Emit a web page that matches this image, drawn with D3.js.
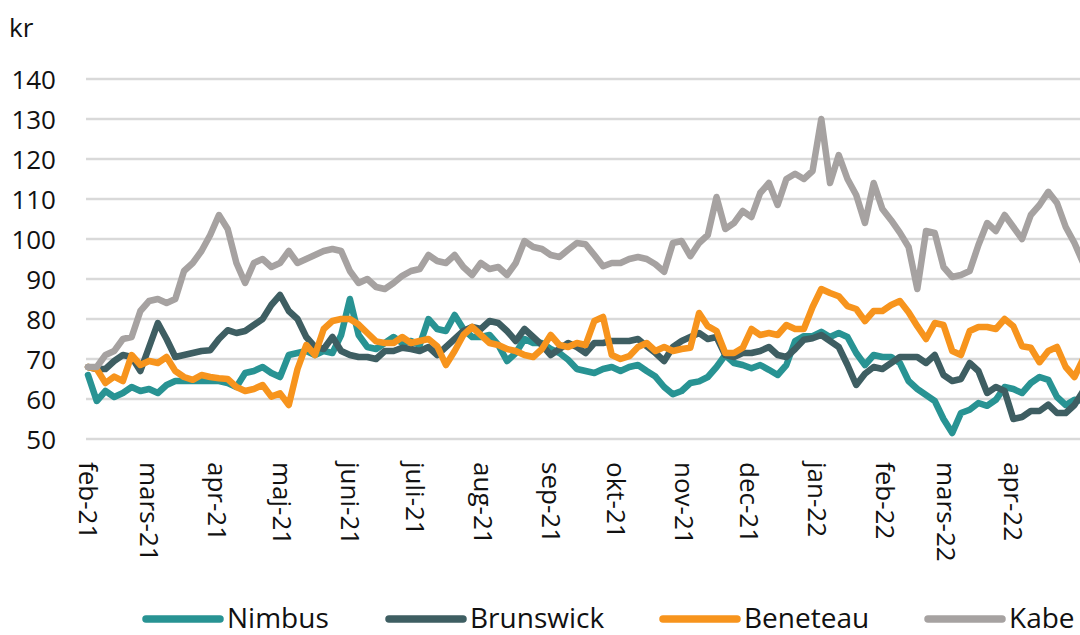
<!DOCTYPE html>
<html>
<head>
<meta charset="utf-8">
<script src="https://cdn.jsdelivr.net/npm/d3@7"></script>
<style>
  html, body { margin: 0; padding: 0; background: #fff; overflow: hidden; }
  svg { display: block; font-family: "Open Sans", "Noto Sans", sans-serif; }
</style>
</head>
<body>
<svg id="chart" width="1080" height="635"></svg>
<script>
// ---------- DATA ----------
const seriesNames = ["Nimbus", "Brunswick", "Beneteau", "Kabe"];
const startDate = "2021-02-01";   // first observation
const stepDays = 4;               // spacing between observations

const nimbus = [66,59.5,62,60.5,61.5,63,62,62.5,61.5,63.5,64.5,64.5,64.5,64.5,64.5,64.5,64,63,66.5,67,
  68,66.5,65.5,71,71.5,72,71,72,71.5,76,85,76,73,72.5,74,75.5,74,74.5,73.5,80,
  77.5,77,81,77.5,75.5,75.5,76,73.5,69.5,71.5,75,74,74,72.5,71.5,69.8,67.5,67,66.5,67.5,
  68,67,68,68.5,67,65.6,63,61.2,62,64,64.4,65.5,68,71,69,68.5,67.7,68.5,67.3,66,
  68.5,74.5,75.7,75.7,76.8,75.5,76.5,75.5,71.5,68.5,71,70.5,70.5,69,64.5,62.5,61,59.5,55,51.5,
  56.5,57.3,59,58.3,59.8,63,62.5,61.5,64,65.5,64.8,60.5,58.5,59.8,59.5];

const brunswick = [68,67.5,67.5,69.5,71,70.5,67,73,79,75,70.5,71,71.5,72,72.2,75,77.2,76.5,77,78.5,
  80,83.5,86,82,80,75.5,73,72.5,75.5,72,71,70.5,70.5,70,72,72,72.8,72.5,72,73,
  71,73,75,77,78,77.5,79.5,79,77,74.5,77.5,75.5,73.5,71,72.5,74,73,71.5,74,74,
  74.5,74.5,74.5,75,73.2,71.5,69.5,73,74.5,75.5,76.5,75,75.5,71,70.5,71.5,71.5,72,73,71,
  70.5,72.5,74.8,75.2,76,74.5,73,68.5,63.5,66.3,68,67.5,69,70.5,70.5,70.5,69,71,66,64.5,
  65,69,67,61.5,63,62,55,55.5,57,57,58.6,56.5,56.5,58.5,62];

const beneteau = [68,67.5,64,65.6,64.5,71,68.5,69.5,69,70.5,67,65.5,64.8,66,65.5,65.2,65,63,62,62.5,
  63.5,60.6,61.4,58.5,67.5,73.5,71,77.5,79.5,80,80,78.6,76.5,74.4,74,74,75.5,74,74.5,75,
  73.2,68.5,72,76,78,76,74,73.5,72.5,72,71,70.5,72.5,76,73.5,73,74,73.5,79.5,80.5,
  71,70,70.7,73,74,72,73,72,72.5,72.8,81.5,78.2,77,71.5,71.5,72.8,77.5,76,76.5,76,
  78.5,77.5,77.5,83,87.5,86.5,85.7,83.2,82.5,79.5,82,82,83.5,84.5,81.7,78.2,75,79,78.5,72,
  71,77,78,78,77.5,80,78.2,73.2,72.8,69.2,72,73,68,65.5,70];

const kabe = [68,68,71,72,75,75.5,82,84.5,85,84,85,92,94,97,101,106,102.5,94,89,94,
  95,93,94,97,94,95,96,97,97.5,97,92,89,90,88,87.5,89,90.8,92,92.5,96,
  94.5,94,96,93,91,94,92.5,93,91,94,99.5,98,97.5,96,95.5,97.3,99,98.7,96,93.2,
  94,94,95,95.5,95,93.7,91.8,99,99.5,95.7,99,101,110.5,102.5,104,107,105.5,111.5,114,108.5,
  115,116.3,115,117,130,114,121,115,111,104,114,107.5,104.7,101.6,98,87.5,102,101.5,93,90.5,
  91,92,98.5,104,102,106,103,100,106,108.5,111.8,109,103,99,94];

const yTicks = [50, 60, 70, 80, 90, 100, 110, 120, 130, 140];
const monthLabels = ["feb-21","mars-21","apr-21","maj-21","juni-21","juli-21","aug-21","sep-21",
  "okt-21","nov-21","dec-21","jan-22","feb-22","mars-22","apr-22"];
const yUnit = "kr";

const colors = ["#289393", "#3E5E62", "#F7941D", "#A6A2A1"];

// ---------- BUILD ----------
const parse = d3.timeParse("%Y-%m-%d");
const t0 = parse(startDate);
const valueSets = [nimbus, brunswick, beneteau, kabe];
const series = seriesNames.map((name, k) => ({
  name,
  color: colors[k],
  values: valueSets[k].map((v, i) => ({ date: d3.timeDay.offset(t0, i * stepDays), value: v }))
}));
const tickDates = monthLabels.map((_, i) => d3.timeMonth.offset(t0, i));

const svg = d3.select("#chart");
const W = 1080;

const x = d3.scaleTime()
  .domain([t0, parse("2022-05-02")])
  .range([88, 1081]);
const y = d3.scaleLinear().domain([50, 140]).range([439, 79]);

// gridlines
svg.append("g")
  .selectAll("line")
  .data(yTicks)
  .join("line")
  .attr("x1", 86).attr("x2", W)
  .attr("y1", d => y(d)).attr("y2", d => y(d))
  .attr("stroke", "#D9D9D9")
  .attr("stroke-width", 2.5);

// y axis labels
const yAxis = d3.axisLeft(y).tickValues(yTicks).tickSize(0).tickPadding(0);
const gy = svg.append("g").attr("transform", "translate(56,0)").call(yAxis);
gy.select(".domain").remove();
gy.selectAll("text")
  .attr("font-size", 26)
  .attr("fill", "#111")
  .attr("font-family", "'Open Sans', sans-serif")
  .attr("dy", "0.36em");

// unit label
svg.append("text")
  .attr("x", 9).attr("y", 37)
  .attr("font-size", 26)
  .attr("fill", "#111")
  .text(yUnit);

// x axis labels (rotated)
const xAxis = d3.axisBottom(x)
  .tickValues(tickDates)
  .tickFormat((d, i) => monthLabels[i])
  .tickSize(0).tickPadding(0);
const gx = svg.append("g").attr("transform", "translate(0,462)").call(xAxis);
gx.select(".domain").remove();
gx.selectAll("text")
  .attr("font-size", 26)
  .attr("fill", "#111")
  .attr("font-family", "'Open Sans', sans-serif")
  .attr("text-anchor", "start")
  .attr("y", 0)
  .attr("dy", "0.36em")
  .attr("transform", "rotate(90)");

// lines
const line = d3.line()
  .x(d => x(d.date))
  .y(d => y(d.value));

svg.append("g")
  .selectAll("path")
  .data(series)
  .join("path")
  .attr("d", d => line(d.values))
  .attr("fill", "none")
  .attr("stroke", d => d.color)
  .attr("stroke-width", 6.5)
  .attr("stroke-linejoin", "round")
  .attr("stroke-linecap", "round");

// legend
const legendX = [146, 389, 663, 928];
const lg = svg.append("g")
  .selectAll("g")
  .data(series)
  .join("g")
  .attr("transform", (d, i) => `translate(${legendX[i]},619)`);
lg.append("line")
  .attr("x1", 0).attr("x2", 74)
  .attr("y1", 0).attr("y2", 0)
  .attr("stroke", d => d.color)
  .attr("stroke-width", 7.5)
  .attr("stroke-linecap", "round");
lg.append("text")
  .attr("x", 81).attr("y", 9)
  .attr("font-size", 28)
  .attr("fill", "#111")
  .text(d => d.name);
</script>
</body>
</html>
